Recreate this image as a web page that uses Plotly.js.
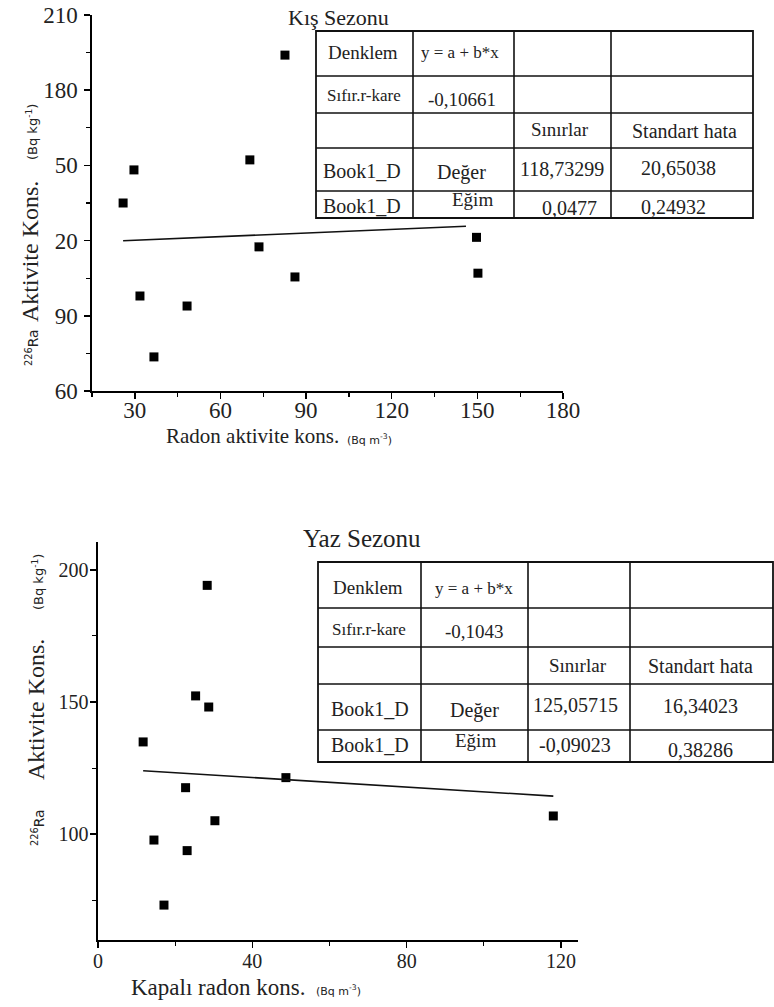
<!DOCTYPE html>
<html>
<head>
<meta charset="utf-8">
<script src="https://cdn.plot.ly/plotly-3.0.1.min.js"></script>
<style>html,body{margin:0;padding:0;background:#fff;}#chart{width:774px;height:1007px;}</style>
</head>
<body>
<div id="chart"></div>
<script>
// ---------- DATA ----------
// Winter season (Kış Sezonu)
const kisRadon = [25.9, 29.7, 31.8, 36.7, 48.3, 70.3, 73.5, 82.6, 86.1, 149.7, 150.2];
const kisRa    = [135.0, 148.2, 97.9, 73.6, 93.9, 152.2, 117.5, 194.0, 105.5, 121.3, 107.0];
const kisFitA = 118.73299, kisFitB = 0.0477;
const kisFitX = [25.9, 146];
const kisYTickVals = [60, 90, 120, 150, 180, 210];
const kisYTickText = ['60', '90', '20', '50', '180', '210'];
const kisXTickVals = [30, 60, 90, 120, 150, 180];
const kisTable = [
  ['Denklem', 'y = a + b*x', '', ''],
  ['Sıfır.r-kare', '-0,10661', '', ''],
  ['', '', 'Sınırlar', 'Standart hata'],
  ['Book1_D', 'Değer', '118,73299', '20,65038'],
  ['Book1_D', 'Eğim', '0,0477', '0,24932']
];

// Summer season (Yaz Sezonu)
const yazRadon = [28.3, 25.3, 28.7, 11.7, 22.7, 48.7, 14.5, 23.1, 30.3, 17.1, 118.0];
const yazRa    = [194.1, 152.3, 148.1, 134.9, 117.6, 121.4, 97.8, 93.8, 105.1, 73.2, 106.9];
const yazFitA = 125.05715, yazFitB = -0.09023;
const yazFitX = [11.7, 118.0];
const yazYTickVals = [100, 150, 200];
const yazXTickVals = [0, 40, 80, 120];
const yazTable = [
  ['Denklem', 'y = a + b*x', '', ''],
  ['Sıfır.r-kare', '-0,1043', '', ''],
  ['', '', 'Sınırlar', 'Standart hata'],
  ['Book1_D', 'Değer', '125,05715', '16,34023'],
  ['Book1_D', 'Eğim', '-0,09023', '0,38286']
];

// ---------- LAYOUT HELPERS ----------
const W = 774, H = 1007;
const px = x => x / W;
const py = y => 1 - y / H;
const SERIF = 'Liberation Serif';
const SANS = 'DejaVu Sans';

const traces = [
  {x: kisRadon, y: kisRa, mode: 'markers', type: 'scatter', xaxis: 'x', yaxis: 'y',
   marker: {symbol: 'square', size: 9, color: '#000'}},
  {x: kisFitX, y: kisFitX.map(v => kisFitA + kisFitB * v), mode: 'lines', type: 'scatter', xaxis: 'x', yaxis: 'y',
   line: {color: '#111', width: 1.6}},
  {x: yazRadon, y: yazRa, mode: 'markers', type: 'scatter', xaxis: 'x2', yaxis: 'y2',
   marker: {symbol: 'square', size: 9, color: '#000'}},
  {x: yazFitX, y: yazFitX.map(v => yazFitA + yazFitB * v), mode: 'lines', type: 'scatter', xaxis: 'x2', yaxis: 'y2',
   line: {color: '#111', width: 1.6}}
];

function axisBase(size) {
  return {
    showline: true, linecolor: '#000', linewidth: 1.6, mirror: false,
    showgrid: false, zeroline: false,
    ticks: 'outside', ticklen: 6, tickwidth: 1.5, tickcolor: '#000',
    tickfont: {family: SERIF, size: size, color: '#222'},
    fixedrange: true
  };
}

const layout = {
  width: W, height: H,
  margin: {l: 0, r: 0, t: 0, b: 0},
  paper_bgcolor: '#fff', plot_bgcolor: 'rgba(0,0,0,0)',
  showlegend: false,
  xaxis: Object.assign(axisBase(23), {
    domain: [px(92), px(563)], range: [15, 180], anchor: 'y',
    tickmode: 'array', tickvals: kisXTickVals, ticklabelstandoff: -8,
    minor: {tick0: 15, dtick: 15, ticks: 'outside', ticklen: 4, tickwidth: 1.2, tickcolor: '#000'}
  }),
  yaxis: Object.assign(axisBase(23), {
    domain: [py(391), py(15)], range: [60, 210], anchor: 'x',
    tickmode: 'array', tickvals: kisYTickVals, ticktext: kisYTickText, ticklabelstandoff: 2,
    minor: {tick0: 60, dtick: 15, ticks: 'outside', ticklen: 4, tickwidth: 1.2, tickcolor: '#000'}
  }),
  xaxis2: Object.assign(axisBase(20), {
    domain: [px(98), px(578)], range: [0, 124.4], anchor: 'y2',
    tickmode: 'array', tickvals: yazXTickVals, ticklabelstandoff: -4,
    minor: {tick0: 0, dtick: 20, ticks: 'outside', ticklen: 4, tickwidth: 1.2, tickcolor: '#000'}
  }),
  yaxis2: Object.assign(axisBase(20), {
    domain: [py(940), py(542)], range: [60, 210.5], anchor: 'x2',
    tickmode: 'array', tickvals: yazYTickVals, ticklabelstandoff: -2,
    minor: {tick0: 75, dtick: 50, ticks: 'outside', ticklen: 4, tickwidth: 1.2, tickcolor: '#000'}
  }),
  shapes: [],
  annotations: []
};

function ann(text, x, y, size, family, opts) {
  layout.annotations.push(Object.assign({
    text: text, x: px(x), y: py(y), xref: 'paper', yref: 'paper',
    showarrow: false, xanchor: 'center', yanchor: 'middle',
    font: {family: family || SERIF, size: size, color: '#222'}
  }, opts || {}));
}

// Chart titles
ann('Kış Sezonu', 338, 18, 22);
ann('Yaz Sezonu', 362, 538, 25);

// Axis titles - top chart
ann('Radon aktivite kons.', 252, 436, 21);
ann('(Bq m<sup>-3</sup>)', 369, 440, 11, SANS);
ann('<sup>226</sup>Ra', 32, 348, 14, SANS, {textangle: -90});
ann('Aktivite Kons.', 30, 252, 24, SERIF, {textangle: -90});
ann('(Bq kg<sup>-1</sup>)', 32, 132, 13, SANS, {textangle: -90});

// Axis titles - bottom chart
ann('Kapalı radon kons.', 218, 987, 23);
ann('(Bq m<sup>-3</sup>)', 338, 990, 11, SANS);
ann('<sup>226</sup>Ra', 38, 828, 14, SANS, {textangle: -90});
ann('Aktivite Kons.', 36, 710, 24, SERIF, {textangle: -90});
ann('(Bq kg<sup>-1</sup>)', 38, 582, 13, SANS, {textangle: -90});

// Tables
function drawTable(rows, colX, rowY, textPos, sizes) {
  const x0 = colX[0], x1 = colX[colX.length - 1], y0 = rowY[0], y1 = rowY[rowY.length - 1];
  layout.shapes.push({type: 'rect', xref: 'paper', yref: 'paper', x0: px(x0), x1: px(x1), y0: py(y1), y1: py(y0),
    fillcolor: '#fff', line: {color: '#111', width: 1.8}, layer: 'above'});
  colX.slice(1, -1).forEach(cx => layout.shapes.push({type: 'line', xref: 'paper', yref: 'paper',
    x0: px(cx), x1: px(cx), y0: py(y0), y1: py(y1), line: {color: '#111', width: 1.6}, layer: 'above'}));
  rowY.slice(1, -1).forEach(ry => layout.shapes.push({type: 'line', xref: 'paper', yref: 'paper',
    x0: px(x0), x1: px(x1), y0: py(ry), y1: py(ry), line: {color: '#111', width: 1.6}, layer: 'above'}));
  rows.forEach((row, r) => row.forEach((t, c) => {
    if (!t) return;
    const p = textPos[r][c];
    ann(t, p[0], p[1], sizes[r][c]);
  }));
}

drawTable(kisTable,
  [316, 413, 514, 611, 753],
  [31, 76, 113, 148, 191, 218],
  [[[363, 53], [460, 53]],
   [[364, 96], [462, 99]],
   [null, null, [560, 129], [684, 131]],
   [[362, 171], [462, 173], [562, 169], [678, 168]],
   [[362, 206], [472, 200], [569, 208], [673, 207]]],
  [[19, 17], [17, 19], [0, 0, 19, 20], [20, 20, 20, 20], [20, 19, 20, 20]]);

drawTable(yazTable,
  [318, 421, 528, 630, 773],
  [562, 608, 647, 684, 730, 762],
  [[[368, 587], [474, 588]],
   [[369, 629], [474, 631]],
   [null, null, [578, 665], [700, 666]],
   [[370, 709], [474, 710], [575, 705], [700, 706]],
   [[370, 745], [475, 740], [575, 745], [700, 750]]],
  [[19, 17], [17, 19], [0, 0, 19, 20], [20, 20, 20, 20], [20, 19, 20, 20]]);

Plotly.newPlot('chart', traces, layout, {displayModeBar: false, staticPlot: true});
</script>
</body>
</html>
